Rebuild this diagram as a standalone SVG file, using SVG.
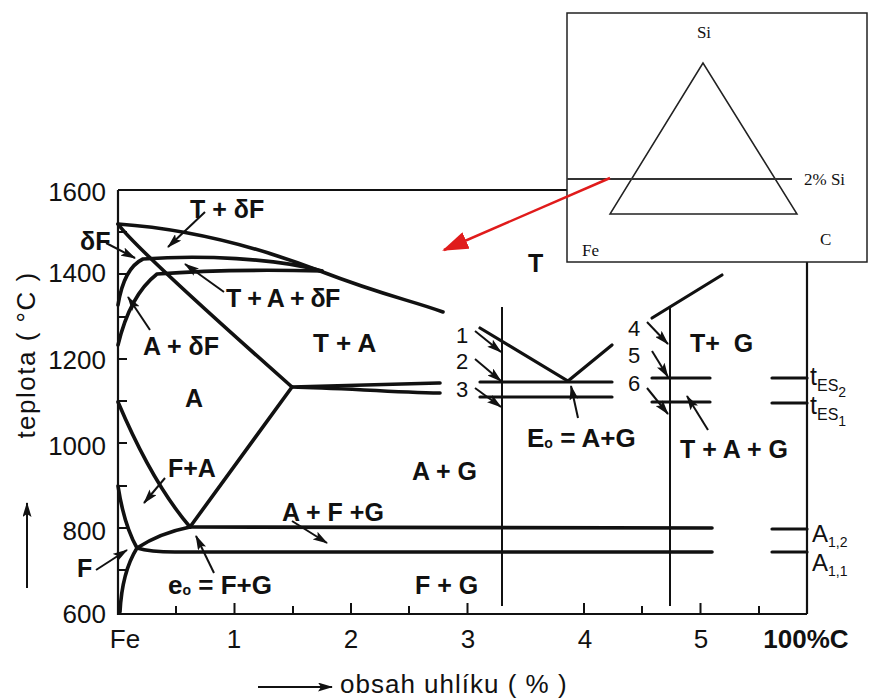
<svg xmlns="http://www.w3.org/2000/svg" width="871" height="699" viewBox="0 0 871 699">
<style>
.frame{fill:none;stroke:#111;stroke-width:2.2}
.tick{fill:none;stroke:#111;stroke-width:2}
.ph{fill:none;stroke:#111;stroke-width:3.6;stroke-linecap:round;stroke-linejoin:round}
.sec{fill:none;stroke:#111;stroke-width:3.2;stroke-linecap:round}
.vl{fill:none;stroke:#111;stroke-width:2}
.arr{fill:none;stroke:#111;stroke-width:2;marker-end:url(#ah)}
.lbl{font-family:"Liberation Sans",Arial,sans-serif;font-size:25px;font-weight:bold;fill:#111}
.num{font-family:"Liberation Sans",Arial,sans-serif;font-size:22px;fill:#111}
.ax{font-family:"Liberation Sans",Arial,sans-serif;font-size:26px;fill:#111}
.ins{font-family:"Liberation Serif","Times New Roman",serif;font-size:17px;fill:#111}
</style>
<defs>
<marker id="ah" markerUnits="userSpaceOnUse" markerWidth="15" markerHeight="9" refX="14" refY="4.5" orient="auto"><path d="M0,0 L15,4.5 L0,9 L3,4.5 z" fill="#111"/></marker>
<marker id="rh" markerUnits="userSpaceOnUse" markerWidth="26" markerHeight="18" refX="24" refY="9" orient="auto"><path d="M0,0 L26,9 L0,18 z" fill="#e01b1b"/></marker>
</defs>
<rect width="871" height="699" fill="#fff"/>

<g id="axes">
<path class="frame" d="M118,190 L567,190 M118,190 L118,614 L807,614 M807,262 L807,614"/>
<path class="tick" d="M118,232 h9 M118,274 h9 M118,317 h9 M118,359 h9 M118,401 h9 M118,443 h9 M118,486 h9 M118,528 h9 M118,570 h9"/>
<path class="tick" d="M176,614 v-8 M234.5,614 v-11 M293,614 v-8 M351,614 v-11 M409,614 v-8 M467.5,614 v-11 M584,614 v-11 M642,614 v-8 M700.5,614 v-11 M759,614 v-8"/>
<g class="ax" text-anchor="end" font-size="27">
<text x="106" y="201">1600</text>
<text x="106" y="282">1400</text>
<text x="106" y="369">1200</text>
<text x="106" y="455">1000</text>
<text x="106" y="540">800</text>
<text x="106" y="623">600</text>
</g>
<g class="ax" text-anchor="middle">
<text x="125" y="648">Fe</text>
<text x="234" y="648">1</text>
<text x="351" y="648">2</text>
<text x="468" y="648">3</text>
<text x="585" y="648">4</text>
<text x="701" y="648">5</text>
<text x="806" y="648" font-weight="bold">100%C</text>
</g>
<text class="ax" font-size="25" transform="translate(35,355) rotate(-90)" text-anchor="middle" letter-spacing="1.5">teplota ( °C )</text>
<path class="vl" d="M27,588 L27,503" marker-end="url(#ah)"/>
<path class="vl" d="M258,687 L332,687" marker-end="url(#ah)"/>
<text class="ax" font-size="27" letter-spacing="1" x="340" y="693">obsah uhlíku ( % )</text>
</g>

<g id="curves">
<path class="ph" d="M118,224 C190,229 255,246 320,271 S410,300 443,312"/>
<path class="ph" d="M118,224 Q135,248 292,387"/>
<path class="ph" d="M118,305 Q124,268 143,259 C200,255 275,258 322,271"/>
<path class="ph" d="M118,345 Q130,295 157,274 C210,270 280,270 322,271"/>
<path class="ph" d="M292,387 C340,386 390,384 440,383 M292,387 C340,388 390,392 440,393"/>
<path class="ph" d="M118,402 C135,442 160,492 190,527"/>
<path class="ph" d="M190,527 L292,387"/>
<path class="ph" d="M190,527 L712,528"/>
<path class="ph" d="M118,486 Q124,525 137,548 Q122,572 120,612"/>
<path class="ph" d="M137,548 Q160,533 190,527"/>
<path class="ph" d="M137,548 Q150,552 175,552 L712,552"/>
<path class="vl" d="M502,307 L502,606"/>
<path class="sec" d="M480,328 L568,381 L612,345"/>
<path class="sec" d="M480,382 L612,382 M480,397 L612,397"/>
<path class="vl" d="M670,308 L670,606"/>
<path class="sec" d="M652,318 L722,275"/>
<path class="sec" d="M652,378 L710,378 M652,402 L710,402"/>
<path class="sec" d="M772,378 L807,378 M772,403 L807,403 M772,529 L807,529 M772,552 L807,552"/>
</g>

<g id="connectors">
<path class="arr" d="M106,243 L135,258"/>
<path class="arr" d="M205,212 L168,247"/>
<path class="arr" d="M224,292 L185,264"/>
<path class="arr" d="M150,330 L128,297"/>
<path class="arr" d="M165,478 L144,503"/>
<path class="arr" d="M96,570 L127,550"/>
<path class="arr" d="M214,573 L196,536"/>
<path class="arr" d="M292,521 L327,543"/>
<path class="arr" d="M475,331 L501,352"/>
<path class="arr" d="M475,359 L501,381"/>
<path class="arr" d="M475,388 L501,407"/>
<path class="arr" d="M578,418 L571,386"/>
<path class="arr" d="M647,322 L668,344"/>
<path class="arr" d="M652,351 L668,377"/>
<path class="arr" d="M647,388 L668,414"/>
<path class="arr" d="M708,430 L687,396"/>
</g>

<g id="labels" class="lbl">
<g id="l-dF"><text x="80" y="250">δF</text></g>
<g id="l-TdF"><text x="190" y="218">T + δF</text></g>
<g id="l-TAdF"><text x="226" y="307" letter-spacing="-0.5">T + A + δF</text></g>
<g id="l-AdF"><text x="143" y="355">A + δF</text></g>
<g id="l-TA"><text x="313" y="352" font-size="26">T + A</text></g>
<g id="l-A"><text x="185" y="407">A</text></g>
<g id="l-T"><text x="528" y="272">T</text></g>
<g id="l-FA"><text x="168" y="477">F+A</text></g>
<g id="l-AG"><text x="412" y="480">A + G</text></g>
<g id="l-AFG"><text x="282" y="521">A + F +G</text></g>
<g id="l-F"><text x="77" y="577">F</text></g>
<g id="l-e0"><text x="168" y="594" font-size="26">e<tspan font-size="14" dy="1">o</tspan><tspan dy="-1"> = F+G</tspan></text></g>
<g id="l-FG"><text x="415" y="594">F + G</text></g>
<g id="l-E0"><text x="527" y="447" font-size="26">E<tspan font-size="14" dy="1">o</tspan><tspan dy="-1"> = A+G</tspan></text></g>
<g id="l-TG"><text x="690" y="352" xml:space="preserve">T+  G</text></g>
<g id="l-TAG"><text x="680" y="458">T + A + G</text></g>
<g id="l-tES2"><text x="810" y="385" font-weight="normal">t<tspan font-size="16" dy="6">ES</tspan><tspan font-size="14" dy="6">2</tspan></text></g>
<g id="l-tES1"><text x="810" y="414" font-weight="normal">t<tspan font-size="16" dy="6">ES</tspan><tspan font-size="14" dy="6">1</tspan></text></g>
<g id="l-A12"><text x="812" y="542" font-weight="normal" font-size="24">A<tspan font-size="14" dy="5">1,2</tspan></text></g>
<g id="l-A11"><text x="812" y="571" font-weight="normal" font-size="24">A<tspan font-size="14" dy="5">1,1</tspan></text></g>
</g>
<g id="numbers" class="num" text-anchor="middle">
<text x="462" y="343">1</text>
<text x="462" y="369">2</text>
<text x="462" y="397">3</text>
<text x="634" y="336">4</text>
<text x="634" y="363">5</text>
<text x="634" y="391">6</text>
</g>

<g id="inset">
<rect x="567" y="13" width="300" height="249" fill="#fff" stroke="#222" stroke-width="1.5"/>
<path d="M703,63 L610,214 L797,214 Z" fill="none" stroke="#222" stroke-width="1.5"/>
<path d="M567,179 L792,179" stroke="#333" stroke-width="1.8"/>
<text class="ins" x="704" y="38" text-anchor="middle">Si</text>
<text class="ins" x="804" y="185">2% Si</text>
<text class="ins" x="582" y="256">Fe</text>
<text class="ins" x="820" y="245">C</text>
<path d="M610,178 L444,250" stroke="#e01b1b" stroke-width="2.5" fill="none" marker-end="url(#rh)"/>
</g>
</svg>
